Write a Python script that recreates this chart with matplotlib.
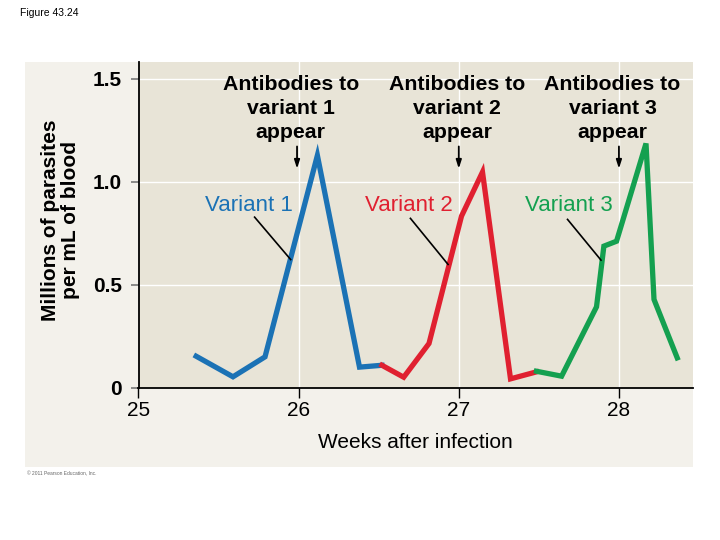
import matplotlib
matplotlib.use("Agg")
import matplotlib.pyplot as plt
from matplotlib.patches import Rectangle

plt.rcParams['font.family'] = ['Liberation Sans', 'DejaVu Sans']

# parasite counts (millions per mL)
blue_x = [25.36, 25.59, 25.79, 26.117, 26.38, 26.52]
blue_y = [0.152, 0.052, 0.149, 1.128, 0.099, 0.108]
red_x = [26.52, 26.656, 26.814, 27.017, 27.148, 27.323, 27.485]
red_y = [0.108, 0.050, 0.214, 0.833, 1.047, 0.042, 0.076]
green_x = [27.485, 27.642, 27.86, 27.906, 27.985, 28.169, 28.219, 28.364]
green_y = [0.079, 0.055, 0.392, 0.687, 0.711, 1.186, 0.428, 0.144]

xticks = [25, 26, 27, 28]
yticks = [0, 0.5, 1.0, 1.5]
ytick_labels = ["0", "0.5", "1.0", "1.5"]

antibody_x = [25.99, 27.0, 28.0]
antibody_text_x = [25.95, 26.99, 27.96]
variant_names = ["Variant 1", "Variant 2", "Variant 3"]
variant_text_x = [25.69, 26.69, 27.69]
variant_line_start = [(25.725, 0.828), (26.698, 0.822), (27.679, 0.817)]
variant_line_end = [(25.95, 0.622), (26.933, 0.598), (27.888, 0.619)]

colors = ["#1b72b5", "#e02030", "#14a050"]

fig = plt.figure(figsize=(7.2, 5.4), dpi=100)
fig.patch.set_facecolor("white")

# light outer panel
panel = Rectangle((25 / 720, 1 - 466.7 / 540), 668 / 720, 405 / 540,
                  transform=fig.transFigure, facecolor="#f3f1eb",
                  edgecolor="none", zorder=-10)
fig.add_artist(panel)

ax = fig.add_axes([138.5 / 720, 1 - 387.5 / 540, 554.5 / 720, 325.5 / 540])
ax.set_zorder(1)
ax.set_facecolor("#e8e4d7")
ax.set_xlim(25, 28.4625)
ax.set_ylim(0, 1.582)

for gx in xticks[1:]:
    ax.axvline(gx, color="white", lw=1.0, zorder=1)
for gy in yticks[1:]:
    ax.axhline(gy, color="white", lw=1.0, zorder=1)

for xs, ys, c in zip([blue_x, red_x, green_x], [blue_y, red_y, green_y], colors):
    ax.plot(xs, ys, color=c, lw=3.8, solid_joinstyle="miter", zorder=3)

for sp in ["top", "right"]:
    ax.spines[sp].set_visible(False)
ax.spines["left"].set_linewidth(1.3)
ax.spines["bottom"].set_linewidth(1.3)

ax.set_xticks(xticks)
ax.set_xticklabels([str(t) for t in xticks], fontsize=15)
ax.set_yticks(yticks)
ax.set_yticklabels(ytick_labels, fontsize=15, fontweight="bold")
ax.tick_params(axis="x", length=7, width=1, pad=3)
ax.tick_params(axis="y", length=6, width=1.2, color="#777777", pad=6)

ax.set_xlabel("Weeks after infection", fontsize=15, labelpad=9)
ax.set_ylabel("Millions of parasites\nper mL of blood", fontsize=15,
              fontweight="bold", linespacing=1.05)
ax.yaxis.set_label_coords(-0.1055, 0.515)

for i in range(3):
    ax.text(antibody_text_x[i], 1.356, "Antibodies to\nvariant %d\nappear" % (i + 1),
            ha="center", va="center", fontsize=15.3, fontweight="bold",
            linespacing=1.32, zorder=4)
    ax.annotate("", xy=(antibody_x[i], 1.050), xytext=(antibody_x[i], 1.185),
                arrowprops=dict(arrowstyle="-|>,head_length=0.5,head_width=0.16",
                                color="black", lw=1.3), zorder=4)
    ax.text(variant_text_x[i], 0.885, variant_names[i], color=colors[i],
            ha="center", va="center", fontsize=16, zorder=4)
    ax.plot([variant_line_start[i][0], variant_line_end[i][0]],
            [variant_line_start[i][1], variant_line_end[i][1]],
            color="black", lw=1.2, zorder=4)

fig.text(20 / 720, 1 - 13 / 540, "Figure 43.24", fontsize=7.5, va="center", ha="left")
fig.text(27 / 720, 1 - 474 / 540, "© 2011 Pearson Education, Inc.", fontsize=3.5,
         color="#666666", va="center", ha="left")

fig.savefig("out.png", dpi=100)
